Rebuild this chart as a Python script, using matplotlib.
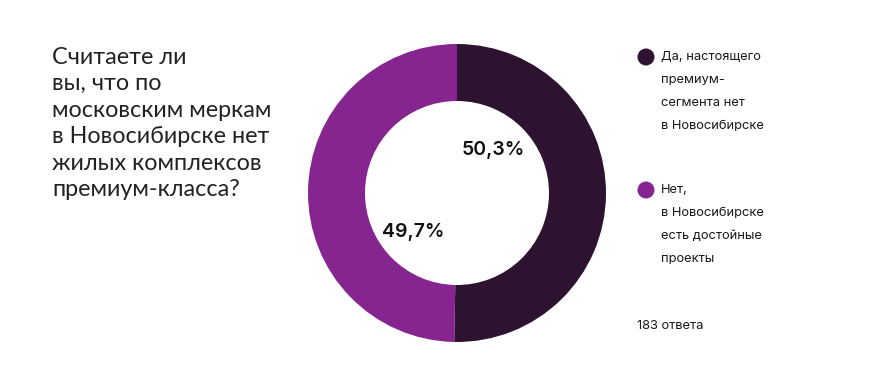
import matplotlib
matplotlib.use("Agg")
from matplotlib import pyplot as plt
from matplotlib.patches import Ellipse

# data
labels = ["Да, настоящего\nпремиум-\nсегмента нет\nв Новосибирске",
          "Нет,\nв Новосибирске\nесть достойные\nпроекты"]
values = [50.3, 49.7]
value_texts = ["50,3%", "49,7%"]
colors = ["#2e1330", "#862590"]
question = ("Считаете ли\nвы, что по\nмосковским меркам\n"
            "в Новосибирске нет\nжилых комплексов\nпремиум-класса?")
responses = "183 ответа"

W, H = 876, 386
fig = plt.figure(figsize=(W / 100, H / 100), dpi=100)
fig.patch.set_facecolor("white")


def px(x, y):
    # pixel coords (top-left origin) -> figure fraction
    return x / W, 1 - y / H


# donut
cx, cy, r_out, r_in = 457, 193, 149, 92
ax = fig.add_axes([(cx - r_out) / W, (H - cy - r_out) / H, 2 * r_out / W, 2 * r_out / H])
ax.pie(values, colors=colors, startangle=90, counterclock=False, radius=1,
       wedgeprops=dict(width=(r_out - r_in) / r_out, linewidth=0))
ax.set_xlim(-1, 1)
ax.set_ylim(-1, 1)
ax.set_aspect("equal")
ax.axis("off")

pct_pos = [(493, 150), (413, 232)]
for (x, y), t in zip(pct_pos, value_texts):
    fig.text(*px(x, y), t, ha="center", va="center", fontsize=14,
             fontfamily="Inter", fontweight="semibold", color="#111111")

# question
q_lines = question.split("\n")
for i, line in enumerate(q_lines):
    fig.text(*px(52, 57 + i * 26.6), line, ha="left", va="center",
             fontsize=16.8, fontfamily="Lato", color="#222222")

# legend
legend_y = [57, 190]
for y0, lab, c in zip(legend_y, labels, colors):
    fig.patches.append(Ellipse(px(646, y0), 17 / W, 17 / H, transform=fig.transFigure,
                               facecolor=c, edgecolor="none"))
    for j, line in enumerate(lab.split("\n")):
        fig.text(*px(661, y0 + j * 23), line, ha="left", va="center",
                 fontsize=9.3, fontfamily="Inter", color="#1a1a1a")

fig.text(*px(637, 326), responses, ha="left", va="center",
         fontsize=9.3, fontfamily="Inter", color="#1a1a1a")

fig.savefig("out.png", dpi=100)
